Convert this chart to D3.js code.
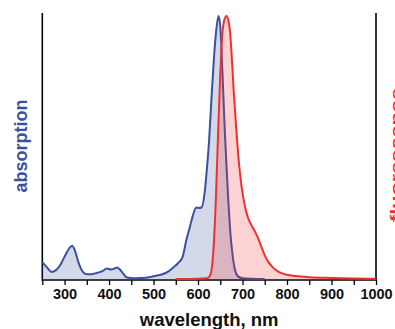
<!DOCTYPE html>
<html>
<head>
<meta charset="utf-8">
<script src="https://cdn.jsdelivr.net/npm/d3@7"></script>
<style>
  html, body { margin: 0; padding: 0; background: #fff; }
  svg { display: block; font-family: "Liberation Sans", Arial, sans-serif; font-weight: bold; }
</style>
</head>
<body>
<svg id="chart" width="395" height="329"></svg>
<script>
//
// Data
//

// absorption spectrum, wavelength (nm) and normalised intensity
var absWave = [250, 260, 271, 280, 290, 300, 310, 317, 323, 331, 340, 348, 360, 372, 385, 395, 405, 412, 418, 425, 433, 440, 455, 470, 490, 507, 520, 530, 545, 555, 565, 574, 582, 589, 596, 602, 608, 615, 620, 625, 630, 635, 640, 646, 650, 655, 660, 664, 668, 672, 677, 683, 690, 700, 720, 750]
var absValue = [0.064, 0.045, 0.027, 0.033, 0.052, 0.085, 0.115, 0.126, 0.11, 0.064, 0.03, 0.019, 0.018, 0.023, 0.03, 0.04, 0.036, 0.04, 0.044, 0.035, 0.018, 0.006, 0.003, 0.004, 0.007, 0.013, 0.018, 0.025, 0.045, 0.06, 0.082, 0.15, 0.2, 0.245, 0.272, 0.27, 0.272, 0.33, 0.42, 0.53, 0.68, 0.82, 0.93, 1.0, 0.96, 0.78, 0.57, 0.43, 0.3, 0.19, 0.1, 0.035, 0.01, 0.003, 0.001, 0]

// fluorescence spectrum
var fluWave = [550, 600, 620, 626, 630, 635, 640, 645, 650, 655, 660, 664, 668, 672, 676, 680, 686, 692, 698, 705, 712, 720, 728, 735, 743, 750, 758, 766, 775, 785, 800, 820, 850, 900, 950, 1000]
var fluValue = [0, 0.001, 0.003, 0.01, 0.03, 0.12, 0.3, 0.55, 0.78, 0.94, 0.99, 1.0, 0.985, 0.94, 0.84, 0.72, 0.57, 0.44, 0.35, 0.28, 0.235, 0.205, 0.18, 0.155, 0.12, 0.09, 0.065, 0.048, 0.034, 0.024, 0.016, 0.011, 0.007, 0.004, 0.002, 0.001]

var xTicks = [300, 400, 500, 600, 700, 800, 900, 1000]
var xMinorTicks = d3.range(250, 1001, 50)

// colors
var colorAbs = '#3a50a0'
var colorFlu = '#f03030'
var colorAxis = '#000'

//
// Scales
//

var svg = d3.select('#chart')
var plotLeft = 42.3, plotRight = 376, plotBottom = 280, plotTop = 13

var x = d3.scaleLinear().domain([250, 1000]).range([plotLeft, plotRight])
var y = d3.scaleLinear().domain([0, 1.0114]).range([plotBottom - 1, plotTop])

var absData = absWave.map(function(w, i) { return [w, absValue[i]] })
var fluData = fluWave.map(function(w, i) { return [w, fluValue[i]] })

var line = d3.line()
  .x(function(d) { return x(d[0]) })
  .y(function(d) { return y(d[1]) })
  .curve(d3.curveMonotoneX)

var area = d3.area()
  .x(function(d) { return x(d[0]) })
  .y0(y(0))
  .y1(function(d) { return y(d[1]) })
  .curve(d3.curveMonotoneX)

//
// Axes
//

var xAxis = svg.append('g')
  .attr('transform', 'translate(0,' + plotBottom + ')')
  .call(d3.axisBottom(x)
    .tickValues(xMinorTicks)
    .tickSize(5)
    .tickFormat(function(d) { return xTicks.indexOf(d) >= 0 ? d : '' }))

xAxis.select('.domain').remove()
xAxis.selectAll('line').attr('stroke', colorAxis).attr('stroke-width', 1.3)
xAxis.selectAll('text')
  .attr('fill', '#111')
  .attr('font-size', 14.5)
  .attr('font-weight', 'bold')
  .attr('font-family', '"Liberation Sans", Arial, sans-serif')
  .attr('y', 8.5)
  .attr('dy', '0.71em')

svg.append('path')
  .attr('d', 'M' + plotLeft + ',' + plotTop + 'V' + plotBottom + 'H' + plotRight + 'V' + plotTop)
  .attr('fill', 'none')
  .attr('stroke', colorAxis)
  .attr('stroke-width', 1.6)

//
// Spectra
//

svg.append('path')
  .datum(absData)
  .attr('d', area)
  .attr('fill', colorAbs)
  .attr('fill-opacity', 0.22)

svg.append('path')
  .datum(absData)
  .attr('d', line)
  .attr('fill', 'none')
  .attr('stroke', colorAbs)
  .attr('stroke-width', 2)

svg.append('path')
  .datum(fluData)
  .attr('d', area)
  .attr('fill', colorFlu)
  .attr('fill-opacity', 0.22)

svg.append('path')
  .datum(fluData)
  .attr('d', line)
  .attr('fill', 'none')
  .attr('stroke', colorFlu)
  .attr('stroke-width', 2)

//
// Labels
//

svg.append('text')
  .attr('transform', 'translate(26.5,146) rotate(-90)')
  .attr('text-anchor', 'middle')
  .attr('font-size', 18)
  .attr('fill', colorAbs)
  .text('absorption')

// right label is cut by the edge of the picture
svg.append('text')
  .attr('transform', 'translate(401,155) rotate(-90)')
  .attr('text-anchor', 'middle')
  .attr('font-size', 15)
  .attr('textLength', 134)
  .attr('lengthAdjust', 'spacingAndGlyphs')
  .attr('fill', colorFlu)
  .text('fluorescence')

svg.append('text')
  .attr('x', (plotLeft + plotRight) / 2)
  .attr('y', 326)
  .attr('text-anchor', 'middle')
  .attr('font-size', 18.5)
  .attr('fill', '#111')
  .text('wavelength, nm')
</script>
</body>
</html>
